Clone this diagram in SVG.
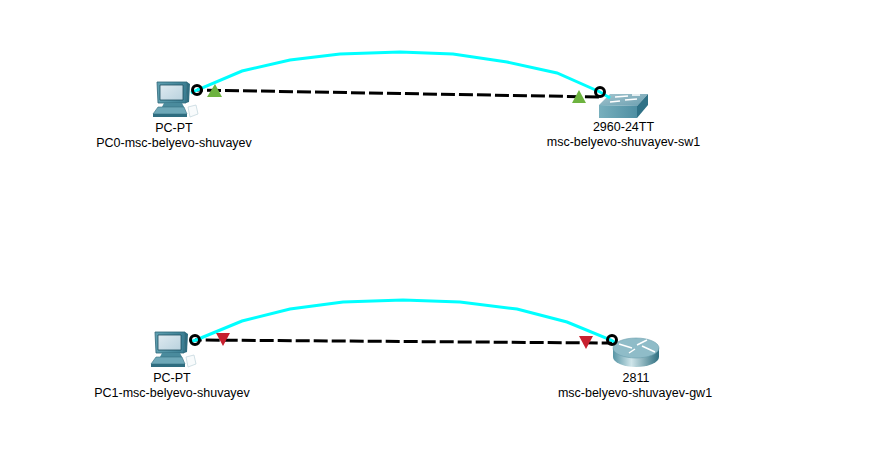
<svg xmlns="http://www.w3.org/2000/svg" width="880" height="472" viewBox="0 0 880 472">
<defs>
<linearGradient id="scr" x1="0" y1="0" x2="1" y2="1"><stop offset="0" stop-color="#dfeaf0"/><stop offset="1" stop-color="#b9d2de"/></linearGradient>
<linearGradient id="body" x1="0" y1="0" x2="1" y2="0"><stop offset="0" stop-color="#5f9fb0"/><stop offset="1" stop-color="#3a7d92"/></linearGradient>
<linearGradient id="cyl" x1="0" y1="0" x2="1" y2="0"><stop offset="0" stop-color="#5795a5"/><stop offset=".4" stop-color="#cfe5ea"/><stop offset="1" stop-color="#2f6f80"/></linearGradient>
<linearGradient id="swf" x1="0" y1="0" x2="1" y2="0"><stop offset="0" stop-color="#78afbd"/><stop offset="1" stop-color="#4f8fa3"/></linearGradient>
<linearGradient id="top" x1="0" y1="0" x2="1" y2="1"><stop offset="0" stop-color="#a3c5cf"/><stop offset="1" stop-color="#6b9fb0"/></linearGradient>
<g id="pc">
<path d="M4 0H34L33 21H5Z" fill="url(#body)" stroke="#2c6477" stroke-width=".8"/>
<path d="M7 3H30V18H7Z" fill="url(#scr)" stroke="#1d4f60" stroke-width=".8"/>
<path d="M34 0L37 2L36 20L33 21Z" fill="#2f6d80"/>
<path d="M11 21H29L31 25H9Z" fill="#4a8b9d"/>
<path d="M5 25H31L34 32H0Z" fill="#6ea8b8" stroke="#346f80" stroke-width=".6"/>
<path d="M0 32H34V35H0Z" fill="#2f6d80"/>
<path d="M35 25L43 23L45 32L37 35Z" fill="#f8fbfc" stroke="#c5d8de" stroke-width=".8"/>
</g>
<style>
.lab{font-family:"Liberation Sans",Arial,sans-serif;font-size:12.5px;fill:#000;text-anchor:middle}
.cy{fill:none;stroke:#0ff;stroke-width:3}
.bl{fill:none;stroke:#000;stroke-width:3;stroke-dasharray:14 4}
.ring{fill:none;stroke:#000;stroke-width:3}
.up{fill:#6db33f}
.dn{fill:#c8202f}
.ar{fill:none;stroke:#fff;stroke-width:1.5}
</style>
</defs>
<rect width="880" height="472" fill="#fff"/>
<g id="pc0"><use href="#pc" transform="translate(153,82)"/><text class="lab" x="174" y="132">PC-PT</text><text class="lab" x="174" y="147">PC0-msc-belyevo-shuvayev</text></g>
<g id="sw1">
<path d="M599 105L610 94H648L637 106Z" fill="url(#top)"/>
<path d="M599 105L637 106V118H599Z" fill="url(#swf)"/>
<path d="M637 106L648 94V105L637 118Z" fill="#2f7186"/>
<path class="ar" d="M615 97L628 96M632 95H640M610 102L620 101M625 100L637 99"/>
<text class="lab" x="623.5" y="131">2960-24TT</text><text class="lab" x="623.5" y="146">msc-belyevo-shuvayev-sw1</text>
</g>
<g id="pc1"><use href="#pc" transform="translate(151,332)"/><text class="lab" x="172" y="382">PC-PT</text><text class="lab" x="172" y="397">PC1-msc-belyevo-shuvayev</text></g>
<g id="gw1">
<path d="M613 348V357A23 10 0 0 0 659 357V348Z" fill="url(#cyl)"/>
<ellipse cx="636" cy="348" rx="23" ry="10" fill="#8fbcc8" stroke="#6a9dac" stroke-width=".6"/>
<path class="ar" d="M619 344L632 348M655 352L642 346M637 345L647 340M629 353L635 349"/>
<text class="lab" x="636" y="382">2811</text><text class="lab" x="635" y="397">msc-belyevo-shuvayev-gw1</text>
</g>
<g id="connectors">
<path class="bl" stroke-dashoffset="8" d="M197 90L600 97"/>
<path class="bl" stroke-dashoffset="7.3" d="M195 340L612 343"/>
<path class="cy" d="M191 93L197 90L242 71L290 60L340 54L400 52L453 54L507 62L557 73L600 92L610 98"/>
<path class="cy" d="M190 342L196 340L242 321L290 309L343 302L403 300L460 302L517 309L567 322L611 340L616 343"/>
<circle class="ring" cx="197" cy="90" r="4.5"/>
<circle class="ring" cx="600" cy="92" r="4.5"/>
<circle class="ring" cx="195" cy="340" r="4.5"/>
<circle class="ring" cx="612" cy="340" r="4.5"/>
<path class="up" d="M215 84L222 97H207Z"/>
<path class="up" d="M579 90L586 103H572Z"/>
<path class="dn" d="M216 333H230L223 346Z"/>
<path class="dn" d="M579 336H593L586 349Z"/>
</g>
</svg>
